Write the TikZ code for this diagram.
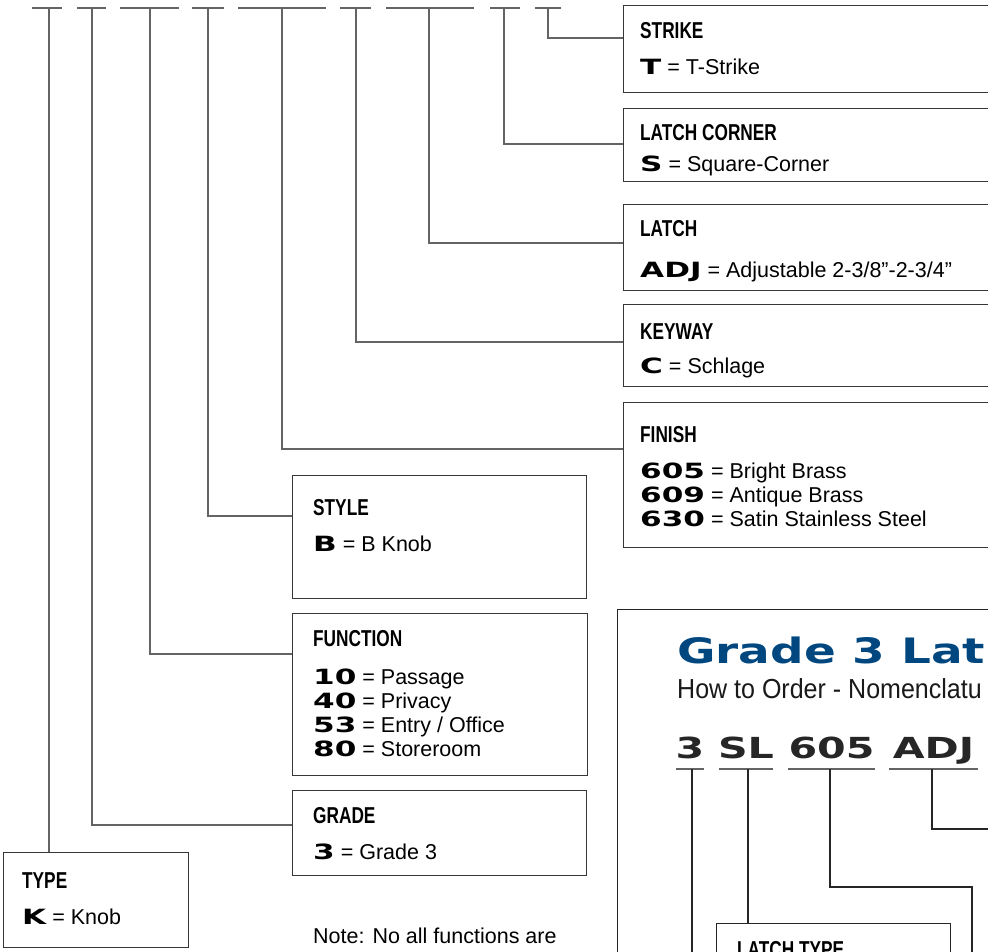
\documentclass[tikz,border=0pt]{standalone}
\usepackage{fontspec}
\setmainfont{Liberation Sans}
\newfontfamily\headfont[FakeStretch=0.75]{Liberation Sans}
\newfontfamily\codefont[FakeStretch=1.48]{DejaVu Sans}
\newfontfamily\partfont[FakeStretch=1.42]{DejaVu Sans}
\newfontfamily\widefont[FakeStretch=1.34]{DejaVu Sans}
\newfontfamily\subfont[FakeStretch=0.91]{Liberation Sans}
\usetikzlibrary{positioning}

\definecolor{gradeblue}{RGB}{0,71,128}
\definecolor{rulegray}{RGB}{100,100,100}
\definecolor{boxgray}{RGB}{55,55,55}

\tikzstyle{bar} = [draw=rulegray, line width=1.6pt]
\tikzstyle{lead} = [draw=rulegray, line width=1.3pt]
\tikzstyle{box} = [draw=boxgray, line width=1.4pt, anchor=north west, inner sep=0pt]
\tikzstyle{head} = [anchor=base west, inner sep=0pt, font=\headfont\bfseries\fontsize{23}{26}\selectfont]
\tikzstyle{entry} = [anchor=base west, inner sep=0pt, font=\fontsize{21.5}{24}\selectfont]
\tikzstyle{part} = [anchor=base, inner sep=0pt, text=black!85, font=\partfont\bfseries\fontsize{29}{30}\selectfont]

\newcommand{\code}[1]{{\codefont\bfseries\fontsize{21}{24}\selectfont #1}}

\begin{document}
\begin{tikzpicture}[x=1pt, y=-1pt]
\useasboundingbox (0,0) rectangle (988,951);
%begin bars
\draw[bar] (32,8) -- (62,8);   \coordinate (t1) at (49,8);
\draw[bar] (77,8) -- (106,8);  \coordinate (t2) at (92,8);
\draw[bar] (120,8) -- (179,8); \coordinate (t3) at (150,8);
\draw[bar] (192,8) -- (224,8); \coordinate (t4) at (208,8);
\draw[bar] (238,8) -- (326,8); \coordinate (t5) at (282,8);
\draw[bar] (340,8) -- (371,8); \coordinate (t6) at (356,8);
\draw[bar] (386,8) -- (474,8); \coordinate (t7) at (429,8);
\draw[bar] (490,8) -- (520,8); \coordinate (t8) at (504,8);
\draw[bar] (535,8) -- (561,8); \coordinate (t9) at (548,8);
%end bars
%begin strike
\node[box, minimum width=400pt, minimum height=87pt] (strike) at (623,5) {};
\node[head] (strikeH) at (640,38) {STRIKE};
\node[entry] (strikeA) at (640,74) {\code{T} = T-Strike};
%end strike
%begin latch corner
\node[box, minimum width=400pt, minimum height=73pt] (corner) at (623,108) {};
\node[head] (cornerH) at (640,140) {LATCH CORNER};
\node[entry] (cornerA) at (640,171) {\code{S} = Square-Corner};
%end latch corner
%begin latch
\node[box, minimum width=400pt, minimum height=86pt] (latch) at (623,204) {};
\node[head] (latchH) at (640,236) {LATCH};
\node[entry] (latchA) at (640,277) {\code{ADJ} = Adjustable 2-3/8"-2-3/4"};
%end latch
%begin keyway
\node[box, minimum width=400pt, minimum height=82pt] (keyway) at (623,304) {};
\node[head] (keywayH) at (640,339) {KEYWAY};
\node[entry] (keywayA) at (640,373) {\code{C} = Schlage};
%end keyway
%begin finish
\node[box, minimum width=400pt, minimum height=145pt] (finish) at (623,402) {};
\node[head] (finishH) at (640,442) {FINISH};
\node[entry] (finishA) at (640,478) {\code{605} = Bright Brass};
\node[entry] (finishB) at (640,502) {\code{609} = Antique Brass};
\node[entry] (finishC) at (640,526) {\code{630} = Satin Stainless Steel};
%end finish
%begin style
\node[box, minimum width=294pt, minimum height=123pt] (style) at (292,475) {};
\node[head] (styleH) at (313,515) {STYLE};
\node[entry] (styleA) at (313,551) {\code{B} = B Knob};
%end style
%begin function
\node[box, minimum width=295pt, minimum height=162pt] (function) at (292,613) {};
\node[head] (functionH) at (313,646) {FUNCTION};
\node[entry] (functionA) at (313,684) {\code{10} = Passage};
\node[entry] (functionB) at (313,708) {\code{40} = Privacy};
\node[entry] (functionC) at (313,732) {\code{53} = Entry / Office};
\node[entry] (functionD) at (313,756) {\code{80} = Storeroom};
%end function
%begin grade
\node[box, minimum width=294pt, minimum height=85pt] (grade) at (292,790) {};
\node[head] (gradeH) at (313,823) {GRADE};
\node[entry] (gradeA) at (313,859) {\code{3} = Grade 3};
%end grade
%begin type
\node[box, minimum width=185pt, minimum height=95pt] (type) at (3,852) {};
\node[head] (typeH) at (22,888) {TYPE};
\node[entry] (typeA) at (22,924) {\code{K} = Knob};
%end type
\node[entry] (note) at (313,943) {Note: No all functions are};
%begin leaders
\draw[lead] (t1) -- (t1 |- type.north);
\draw[lead] (t2) |- (grade.west |- 0,825);
\draw[lead] (t3) |- (function.west |- 0,654);
\draw[lead] (t4) |- (style.west |- 0,516);
\draw[lead] (t5) |- (finish.west |- 0,449);
\draw[lead] (t6) |- (keyway.west |- 0,342);
\draw[lead] (t7) |- (latch.west |- 0,243);
\draw[lead] (t8) |- (corner.west |- 0,144);
\draw[lead] (t9) |- (strike.west |- 0,38);
%end leaders
%begin nomenclature
\node[box, draw=black!85, line width=1.2pt, minimum width=420pt, minimum height=400pt] (nomen) at (617,609) {};
\node[anchor=base west, inner sep=0pt, text=gradeblue, font=\widefont\bfseries\fontsize{35}{40}\selectfont] (nomenH) at (677,663) {Grade 3 Lat};
\node[anchor=base west, inner sep=0pt, text=black!90, font=\subfont\fontsize{27.5}{30}\selectfont] (nomenS) at (677,698) {How to Order - Nomenclatu};
\node[part] (p3) at (690,758) {3};
\node[part] (pSL) at (746,758) {SL};
\node[part] (p605) at (831.5,758) {605};
\node[part] (pADJ) at (933.5,758) {ADJ};
\draw[bar] (676,769) -- (704,769);  \coordinate (u1) at (692,769);
\draw[bar] (719,769) -- (773,769);  \coordinate (u2) at (748,769);
\draw[bar] (788,769) -- (875,769);  \coordinate (u3) at (830,769);
\draw[bar] (889,769) -- (978,769);  \coordinate (u4) at (932,769);
\node[box, draw=black!85, line width=1.2pt, minimum width=234pt, minimum height=100pt] (latchtype) at (716,923) {};
\node[head] (latchtypeH) at (737,957) {LATCH TYPE};
\coordinate (e1) at (692,960);
\coordinate (e3) at (972,960);
\coordinate (e4) at (1000,829);
\draw[lead, draw=black!85] (u1) -- (e1);
\draw[lead, draw=black!85] (u2) -- (u2 |- latchtype.north);
\draw[lead, draw=black!85] (u3) |- (972,887) -- (e3);
\draw[lead, draw=black!85] (u4) |- (e4);
%end nomenclature
\end{tikzpicture}
\end{document}
